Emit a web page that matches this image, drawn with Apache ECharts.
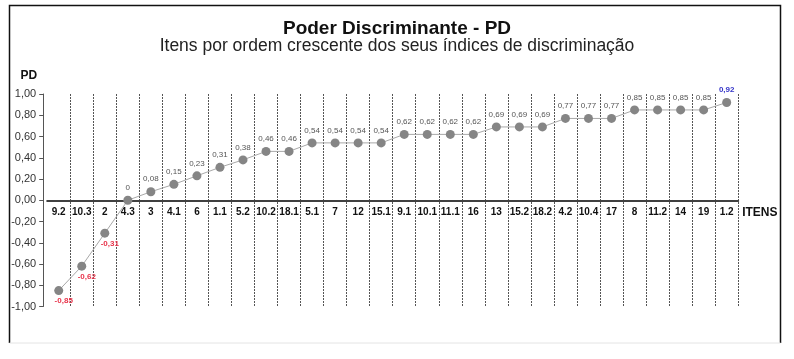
<!DOCTYPE html>
<html>
<head>
<meta charset="utf-8">
<script src="https://cdn.jsdelivr.net/npm/echarts@6/dist/echarts.min.js"></script>
<style>html,body{margin:0;padding:0;background:#fff;}#c{width:794px;height:359px;}</style>
</head>
<body>
<div id="c"></div>
<script>
var categories = ['9.2','10.3','2','4.3','3','4.1','6','1.1','5.2','10.2','18.1','5.1','7','12','15.1','9.1','10.1','11.1','16','13','15.2','18.2','4.2','10.4','17','8','11.2','14','19','1.2'];
var pdValues = [-0.85,-0.62,-0.31,0,0.08,0.15,0.23,0.31,0.38,0.46,0.46,0.54,0.54,0.54,0.54,0.62,0.62,0.62,0.62,0.69,0.69,0.69,0.77,0.77,0.77,0.85,0.85,0.85,0.85,0.92];
var yTicks = { min: -1, max: 1, interval: 0.2 };
var titleText = 'Poder Discriminante - PD';
var subtitleText = 'Itens por ordem crescente dos seus índices de discriminação';

function fmt(v) {
  var s = Math.abs(v).toFixed(2).replace('.', ',');
  return (v < -1e-9 ? '-' : '') + s;
}
function lbl(v) {
  if (v === 0) return '0';
  return (v < 0 ? '-' : '') + Math.abs(v).toFixed(2).replace('.', ',');
}

var maxV = Math.max.apply(null, pdValues);
var data = pdValues.map(function (v) {
  var d = { value: v };
  if (v < 0) {
    d.label = { position: 'bottom', distance: 2, offset: [5, 0], color: '#e8334a', fontWeight: 'bold' };
  } else if (v === maxV) {
    d.label = { color: '#3535c8', fontWeight: 'bold' };
  }
  return d;
});

var chart = echarts.init(document.getElementById('c'), null, { renderer: 'canvas' });
chart.setOption({
  backgroundColor: '#fff',
  animation: false,
  title: [
    { text: titleText, left: 'center', top: 14, textStyle: { fontFamily: 'Arial, Liberation Sans', fontSize: 19, fontWeight: 'bold', color: '#111' } },
    { text: subtitleText, left: 'center', top: 32, textStyle: { fontFamily: 'Arial, Liberation Sans', fontSize: 17.5, fontWeight: 'normal', color: '#222' } }
  ],
  grid: { left: 47.2, right: 55.8, top: 94, bottom: 52.5, containLabel: false },
  xAxis: {
    type: 'category',
    data: categories,
    boundaryGap: true,
    name: 'ITENS',
    nameLocation: 'end',
    nameGap: 4,
    nameTextStyle: { fontFamily: 'Arial, Liberation Sans', fontSize: 12, fontWeight: 'bold', color: '#111', verticalAlign: 'top', padding: [6, 0, 0, 0] },
    axisLine: { onZero: true, lineStyle: { color: '#404040', width: 2 } },
    axisTick: { show: false },
    axisLabel: { interval: 0, margin: -99, fontFamily: 'Arial, Liberation Sans', fontSize: 10, fontWeight: 'bold', color: '#111' },
    splitLine: { show: true, showMinLine: false, interval: 0, lineStyle: { color: '#555', width: 1, type: [2, 1] } }
  },
  yAxis: {
    type: 'value',
    min: yTicks.min,
    max: yTicks.max,
    interval: yTicks.interval,
    offset: 4,
    name: 'PD',
    nameLocation: 'end',
    nameGap: 12,
    nameTextStyle: { fontFamily: 'Arial, Liberation Sans', fontSize: 12, fontWeight: 'bold', color: '#111', align: 'right', padding: [0, 6, 0, 0] },
    axisLine: { show: true, lineStyle: { color: '#555', width: 1 } },
    axisTick: { show: true, inside: false, length: 4, lineStyle: { color: '#555' } },
    axisLabel: { margin: 7, formatter: fmt, fontFamily: 'Arial, Liberation Sans', fontSize: 11, color: '#333' },
    splitLine: { show: false }
  },
  series: [{
    type: 'line',
    data: data,
    symbol: 'circle',
    symbolSize: 9,
    itemStyle: { color: '#858585' },
    lineStyle: { color: '#a8a8a8', width: 1 },
    label: {
      show: true,
      position: 'top',
      distance: 4,
      formatter: function (p) { return lbl(p.value); },
      fontFamily: 'Arial, Liberation Sans',
      fontSize: 8,
      color: '#555'
    },
    z: 5
  }],
  graphic: [
    { type: 'polyline', shape: { points: [[9.5, 343], [9.5, 5.5], [780.5, 5.5], [780.5, 343]] }, style: { stroke: '#111', lineWidth: 1.5, fill: null }, silent: true },
    { type: 'line', shape: { x1: 9.5, y1: 343, x2: 780.5, y2: 343 }, style: { stroke: '#e4e4e4', lineWidth: 1 }, silent: true }
  ]
});
</script>
</body>
</html>
